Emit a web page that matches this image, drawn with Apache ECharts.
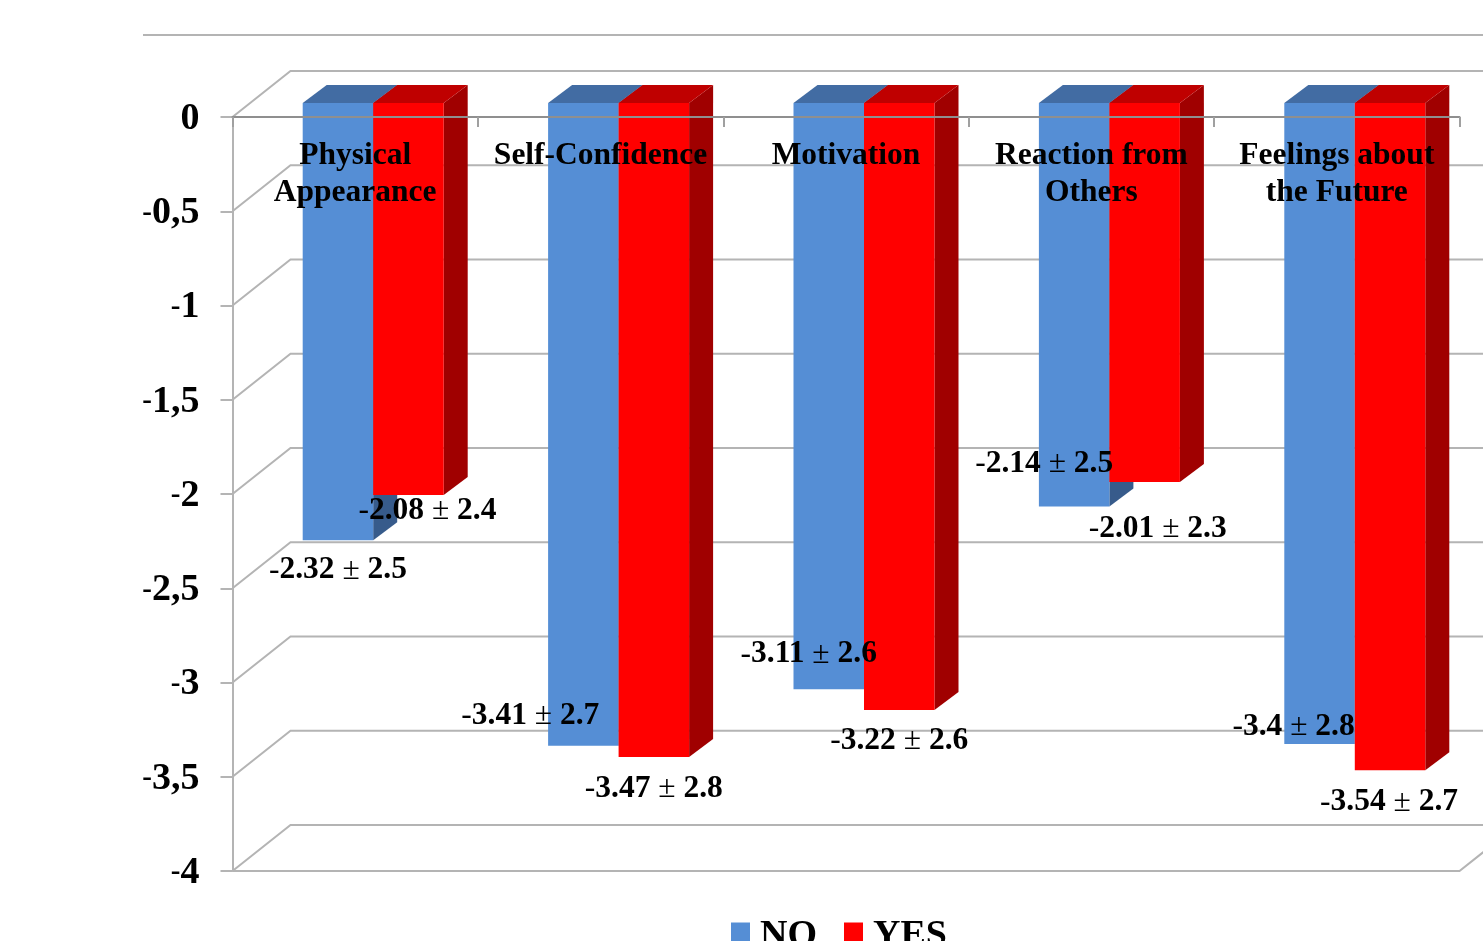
<!DOCTYPE html>
<html>
<head>
<meta charset="utf-8">
<title>Mean score change by domain</title>
<style>html,body{margin:0;padding:0;background:#fff;overflow:hidden}#chart{width:1483px;height:941px}</style>
<script src="https://cdn.jsdelivr.net/npm/echarts@6/dist/echarts.min.js"></script>
</head>
<body>
<div id="chart"></div>
<script>
const categories = ['Physical\nAppearance', 'Self-Confidence', 'Motivation', 'Reaction from\nOthers', 'Feelings about\nthe Future'];
const noMeans = [-2.32, -3.41, -3.11, -2.14, -3.4];
const noSds = [2.5, 2.7, 2.6, 2.5, 2.8];
const yesMeans = [-2.08, -3.47, -3.22, -2.01, -3.54];
const yesSds = [2.4, 2.8, 2.6, 2.3, 2.7];
const gridValues = [0, -0.5, -1, -1.5, -2, -2.5, -3, -3.5, -4];

// Label placement relative to the bottom centre of each bar's front face.
const noLabelOffsets = [[0, 30], [-53, -30], [-20, -35], [-30, -43], [-26, -17]];
const yesLabelOffsets = [[19, 16], [0, 32], [0, 31], [13, 47], [-1, 32]];

// Oblique projection of the box: the back wall, and the bar depth.
const wall = { dx: 58, dy: -46 };
const bar = { width: 70.5, depthX: 24, depthY: -18, shiftX: 18, shiftY: -14 };
const serif = '"Liberation Serif", "Times New Roman", serif';

function wallItem(params, api) {
  const p = api.coord([0, api.value(1)]);
  const x0 = params.coordSys.x;
  const x1 = x0 + params.coordSys.width;
  const y = p[1];
  const children = [{
    type: 'polyline',
    shape: { points: [[x0, y], [x0 + wall.dx, y + wall.dy], [x1 + wall.dx, y + wall.dy]] },
    style: { stroke: '#b4b4b4', lineWidth: 2, fill: null }
  }];
  if (api.value(1) === gridValues[gridValues.length - 1]) {
    children.push({
      type: 'polyline',
      shape: { points: [[x0, y], [x1, y], [x1 + wall.dx, y + wall.dy]] },
      style: { stroke: '#b4b4b4', lineWidth: 2, fill: null }
    });
  }
  return { type: 'group', children };
}

function barRenderer(side, colors, offsets) {
  return function (params, api) {
    const i = api.value(0);
    const mean = api.value(1);
    const sd = api.value(2);
    const zero = api.coord([i, 0]);
    const end = api.coord([i, mean]);
    const xc = zero[0] + bar.shiftX;
    const left = side < 0 ? xc - bar.width : xc;
    const right = left + bar.width;
    const top = zero[1] + bar.shiftY;
    const bottom = end[1] + bar.shiftY;
    const dx = bar.depthX;
    const dy = bar.depthY;
    const poly = (points, fill) => ({ type: 'polygon', shape: { points }, style: { fill } });
    const off = offsets[i];
    const text = '{p|-}{n|' + Math.abs(mean) + '}{p| \u00b1 }{n|' + sd + '}';
    const numberFont = { fontFamily: serif, fontWeight: 'bold', fontSize: 31.5, fill: '#000' };
    const plainFont = { fontFamily: serif, fontWeight: 'normal', fontSize: 31.5, fill: '#000' };
    return {
      type: 'group',
      children: [
        poly([[right, top], [right + dx, top + dy], [right + dx, bottom + dy], [right, bottom]], colors.side),
        poly([[left, top], [left + dx, top + dy], [right + dx, top + dy], [right, top]], colors.top),
        poly([[left, top], [right, top], [right, bottom], [left, bottom]], colors.front),
        {
          type: 'text',
          z2: 50,
          x: (left + right) / 2 + off[0],
          y: bottom + off[1],
          style: {
            text,
            rich: { n: numberFont, p: plainFont },
            align: 'center',
            verticalAlign: 'middle'
          }
        }
      ]
    };
  };
}

const blue = { front: '#558ed5', top: '#426ca3', side: '#375b8b' };
const red = { front: '#ff0000', top: '#bf0000', side: '#a00000' };

const option = {
  animation: false,
  backgroundColor: '#ffffff',
  grid: { left: 232.5, top: 117, width: 1227, height: 754, containLabel: false },
  graphic: [{
    type: 'line',
    shape: { x1: 143, y1: 35, x2: 1483, y2: 35 },
    style: { stroke: '#b4b4b4', lineWidth: 2 }
  }],
  legend: {
    data: ['NO', 'YES'],
    left: 726,
    top: 912,
    icon: 'rect',
    itemWidth: 19,
    itemHeight: 27,
    itemGap: 27,
    textStyle: { fontFamily: serif, fontWeight: 'bold', fontSize: 38, color: '#000', padding: [0, 0, 0, 5] }
  },
  xAxis: {
    type: 'category',
    position: 'top',
    data: categories,
    z: 10,
    axisLine: { lineStyle: { color: '#8f8f8f', width: 2 } },
    axisTick: { show: true, interval: 0, inside: true, length: 10, lineStyle: { color: '#a0a0a0', width: 2 } },
    axisLabel: {
      inside: true,
      interval: 0,
      margin: 20,
      color: '#000',
      fontFamily: serif,
      fontWeight: 'bold',
      fontSize: 31.5,
      lineHeight: 37
    },
    splitLine: { show: false }
  },
  yAxis: {
    type: 'value',
    min: -4,
    max: 0,
    interval: 0.5,
    axisLine: { show: true, lineStyle: { color: '#b4b4b4', width: 2 } },
    axisTick: { show: true, length: 12, lineStyle: { color: '#b4b4b4', width: 2 } },
    axisLabel: {
      margin: 33,
      color: '#000',
      padding: [4, 0, 0, 0],
      fontFamily: serif,
      fontWeight: 'bold',
      fontSize: 38,
      formatter: v => {
        const s = String(Math.abs(v)).replace('.', ',');
        return v < 0 ? '{h|-}{n|' + s + '}' : '{n|' + s + '}';
      },
      rich: {
        h: { fontFamily: serif, fontWeight: 'bold', fontSize: 29, color: '#000' },
        n: { fontFamily: serif, fontWeight: 'bold', fontSize: 38, color: '#000' }
      }
    },
    splitLine: { show: false }
  },
  series: [
    {
      type: 'custom',
      name: 'walls',
      z: 1,
      silent: true,
      data: gridValues.map(v => [0, v]),
      encode: { x: 0, y: 1 },
      renderItem: wallItem
    },
    {
      type: 'custom',
      name: 'NO',
      z: 2,
      itemStyle: { color: blue.front },
      data: noMeans.map((v, i) => [i, v, noSds[i]]),
      encode: { x: 0, y: 1 },
      renderItem: barRenderer(-1, blue, noLabelOffsets)
    },
    {
      type: 'custom',
      name: 'YES',
      z: 2,
      itemStyle: { color: red.front },
      data: yesMeans.map((v, i) => [i, v, yesSds[i]]),
      encode: { x: 0, y: 1 },
      renderItem: barRenderer(1, red, yesLabelOffsets)
    }
  ]
};

echarts.init(document.getElementById('chart'), null, { renderer: 'canvas' }).setOption(option);
</script>
</body>
</html>
